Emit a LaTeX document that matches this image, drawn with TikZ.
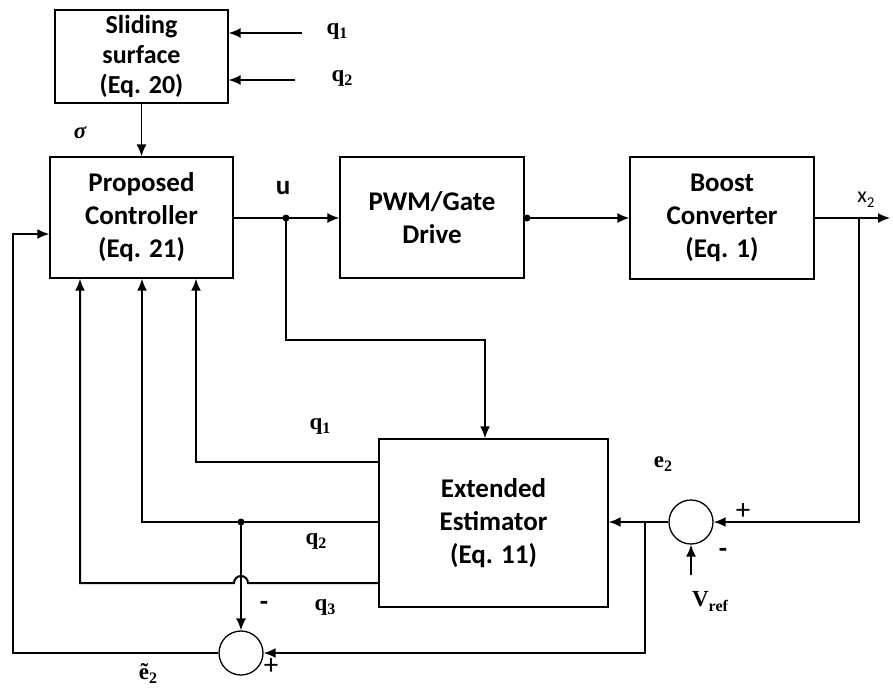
\documentclass[tikz,border=0pt]{standalone}
\usepackage{fontspec}
\setmainfont{Carlito}
\newfontfamily\lserif{Liberation Serif}
\usetikzlibrary{arrows.meta}
\newcommand{\lsub}[2]{#1\raisebox{-4pt}{\fontsize{16}{16}\selectfont #2}}
\begin{document}
\begin{tikzpicture}[x=1pt,y=-1pt,
  blk/.style={draw,line width=1.3pt,align=center,inner sep=0pt,
    font=\fontsize{27}{33}\selectfont\bfseries},
  sumj/.style={draw,circle,line width=1.3pt,minimum size=44pt,inner sep=0pt},
  wire/.style={line width=2pt},
  thinw/.style={line width=1.4pt},
  arr/.style={wire,-{Latex[length=12pt,width=10pt]}},
  tarr/.style={thinw,-{Latex[length=12pt,width=10pt]}},
  ml/.style={font=\fontsize{23}{25}\selectfont\lserif\bfseries,inner sep=1pt},
  sgn/.style={font=\fontsize{29}{29}\selectfont,inner sep=0pt},
  dsh/.style={font=\fontsize{27}{27}\selectfont\bfseries,inner sep=0pt},
  dot/.style={circle,fill,inner sep=0pt,minimum size=7pt}
]
\useasboundingbox (0,0) rectangle (893,688);

% blocks
\node[blk,minimum width=173pt,minimum height=93pt,font=\fontsize{26}{30}\selectfont\bfseries] (ss) at (141.5,56.5) {Sliding\\surface\\(Eq. 20)};
\node[blk,minimum width=183pt,minimum height=121pt] (ctl) at (141.5,217.5) {Proposed\\Controller\\(Eq. 21)};
\node[blk,minimum width=184pt,minimum height=121pt] (pwm) at (432,217.5) {PWM/Gate\\Drive};
\node[blk,minimum width=184pt,minimum height=122pt] (bc) at (722,218) {Boost\\Converter\\(Eq. 1)};
\node[blk,minimum width=229pt,minimum height=168pt] (est) at (493.5,523) {Extended\\Estimator\\(Eq. 11)};
\node[sumj] (s1) at (691,522) {};
\node[sumj] (s2) at (241,653) {};

% helper coordinates
\coordinate (q1s) at (302,33);
\coordinate (q2s) at (295,80);
\coordinate (ud) at (286,218);
\coordinate (uc) at (485,340);
\coordinate (pd) at (527,218);
\coordinate (xo) at (890,218);
\coordinate (xj) at (859,218);
\coordinate (vr) at (691,575);
\coordinate (j1) at (645,522);
\coordinate (fb) at (13,234);
\coordinate (q1y) at (0,462);
\coordinate (q2y) at (0,522);
\coordinate (q3y) at (0,583);
\coordinate (q1x) at (196,0);
\coordinate (q2x) at (142,0);
\coordinate (q3x) at (80,0);
\coordinate (d2) at (241,522);

% inputs to sliding surface
\draw[tarr] (q1s) -- (q1s -| ss.east);
\draw[tarr] (q2s) -- (q2s -| ss.east);
\node[ml] (lq1t) at (337,31) {\lsub{q}{1}};
\node[ml] (lq2t) at (342,78) {\lsub{q}{2}};

% sigma
\draw[tarr] (ss.south) -- (ctl.north);
\node[ml,font=\fontsize{23}{25}\selectfont\lserif\bfseries\itshape] (lsig) at (80,133) {σ};

% forward path
\draw[tarr] (ctl.east |- ud) -- (ud -| pwm.west);
\node[dsh] (lu) at (283,188) {u};
\draw[tarr] (pd) -- (pd -| bc.west);
\node[dot] (pdot) at (pd) {};
\draw[tarr] (bc.east |- xo) -- (xo);
\node[font=\fontsize{22}{22}\selectfont,inner sep=0pt] (lx2) at (866,200) {x\raisebox{-5pt}{\fontsize{15}{15}\selectfont 2}};

% u to estimator
\draw[arr] (ud) |- (uc) -- (uc |- est.north);
\node[dot] (udot) at (ud) {};

% output feedback to sum 1
\draw[arr] (xj) |- (s1.east);
\node[sgn] (lp1) at (743,512) {+};
\node[dsh] (lm1) at (723,553) {-};
\draw[tarr] (vr) -- (s1.south);
\node[ml] (lvr) at (710,602) {V\raisebox{-5pt}{\fontsize{16}{16}\selectfont ref}};
\node[ml] (le2) at (663,464) {\lsub{e}{2}};

% sum1 to estimator
\draw[arr] (s1.west) -- (s1.west -| est.east);
\draw[arr] (j1) |- (s2.east);
\node[sgn] (lp2) at (271,667) {+};

% estimator outputs to controller
\draw[arr] (q1y -| est.west) -| (q1x |- ctl.south);
\draw[arr] (q2y -| est.west) -| (q2x |- ctl.south);
\draw[arr] (q3y -| est.west) -- (248,583) arc[start angle=0,end angle=-180,radius=7] -- (q3x |- q3y) -- (q3x |- ctl.south);
\node[ml] (lq1) at (320,426) {\lsub{q}{1}};
\node[ml] (lq2) at (316,541) {\lsub{q}{2}};
\node[ml] (lq3) at (325,607) {\lsub{q}{3}};

% q2 tap to sum2
\draw[tarr] (d2) -- (s2.north);
\node[dot] (d2dot) at (d2) {};
\node[dsh] (lm2) at (264,606) {-};

% sum2 feedback to controller
\draw[arr] (s2.west) -| (fb) -- (fb -| ctl.west);
\node[ml] (le2t) at (148,673) {\lsub{ẽ}{2}};

\end{tikzpicture}
\end{document}
